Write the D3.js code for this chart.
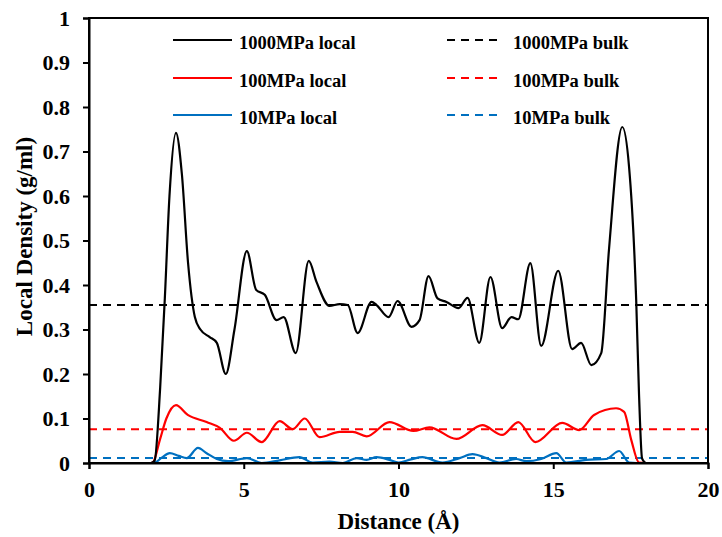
<!DOCTYPE html>
<html>
<head>
<meta charset="utf-8">
<script src="https://cdn.jsdelivr.net/npm/d3@7"></script>
<style>
  body { margin: 0; background: #fff; }
  text { font-family: "Liberation Serif", "Times New Roman", serif; font-weight: bold; fill: #000; }
</style>
</head>
<body>
<svg id="chart" width="722" height="537"></svg>
<script>
// distances (Å) and local densities (g/ml)
const x1000 = [0, 2.0, 2.12, 2.3, 2.45, 2.6, 2.81, 3.0, 3.2, 3.42, 3.6, 3.9, 4.13, 4.42, 4.7, 5.1, 5.4, 5.68, 6.06, 6.29, 6.68, 7.1, 7.35, 7.77, 8.1, 8.36, 8.68, 9.13, 9.29, 9.68, 9.97, 10.42, 10.68, 10.97, 11.26, 11.55, 11.94, 12.23, 12.61, 12.97, 13.35, 13.65, 13.87, 14.26, 14.61, 15.16, 15.61, 15.9, 16.23, 16.55, 16.8, 17.23, 17.45, 17.68, 17.77, 17.87, 18.0, 20];
const y1000 = [0, 0, 0.005, 0.17, 0.37, 0.6, 0.742, 0.65, 0.45, 0.328, 0.3, 0.283, 0.27, 0.2, 0.3, 0.476, 0.389, 0.378, 0.321, 0.328, 0.247, 0.454, 0.407, 0.353, 0.357, 0.355, 0.292, 0.362, 0.355, 0.328, 0.364, 0.306, 0.321, 0.42, 0.37, 0.362, 0.348, 0.371, 0.27, 0.418, 0.303, 0.328, 0.323, 0.449, 0.263, 0.432, 0.256, 0.27, 0.22, 0.247, 0.479, 0.755, 0.665, 0.366, 0.157, 0.01, 0, 0];

const x100 = [0, 2.0, 2.06, 2.29, 2.5, 2.81, 3.19, 3.8, 4.23, 4.68, 5.1, 5.58, 6.16, 6.58, 6.97, 7.45, 8.1, 8.52, 8.97, 9.71, 10.48, 11.0, 11.87, 12.71, 13.35, 13.87, 14.42, 15.29, 15.84, 16.32, 17.03, 17.29, 17.52, 17.77, 18.0, 20];
const y100 = [0, 0, 0.001, 0.052, 0.1, 0.13, 0.108, 0.092, 0.079, 0.05, 0.068, 0.047, 0.094, 0.076, 0.1, 0.058, 0.07, 0.07, 0.06, 0.092, 0.072, 0.08, 0.054, 0.085, 0.063, 0.092, 0.047, 0.09, 0.074, 0.108, 0.123, 0.115, 0.052, 0.001, 0, 0];

const x10 = [0, 2.0, 2.13, 2.35, 2.61, 2.9, 3.16, 3.52, 3.8, 4.13, 4.5, 5.1, 5.58, 6.16, 6.8, 7.23, 7.77, 8.2, 8.65, 8.97, 9.29, 9.71, 10.0, 10.4, 10.77, 11.42, 11.97, 12.39, 12.84, 13.26, 13.8, 14.13, 14.61, 15.1, 15.42, 16.06, 16.71, 17.13, 17.45, 17.7, 20];
const y10 = [0, 0, 0.001, 0.012, 0.022, 0.016, 0.011, 0.034, 0.022, 0.009, 0.004, 0.011, 0.0, 0.006, 0.013, 0.001, 0.003, 0.0, 0.011, 0.007, 0.013, 0.007, 0.001, 0.008, 0.013, 0.001, 0.011, 0.02, 0.011, 0.001, 0.009, 0.004, 0.009, 0.022, 0.001, 0.007, 0.009, 0.027, 0.001, 0, 0];

const bulkNames = ["1000MPa bulk", "100MPa bulk", "10MPa bulk"];
const bulkValues = [0.355, 0.076, 0.011];
const localNames = ["1000MPa local", "100MPa local", "10MPa local"];
const colors = ["#000000", "#ff0000", "#0070c0"];

const xTicks = [0, 5, 10, 15, 20];
const yTicks = [0, 0.1, 0.2, 0.3, 0.4, 0.5, 0.6, 0.7, 0.8, 0.9, 1];

const svg = d3.select("#chart");
const margin = {left: 89, right: 14, top: 18, bottom: 74};
const width = 722 - margin.left - margin.right;
const height = 537 - margin.top - margin.bottom;

const x = d3.scaleLinear().domain([0, 20]).range([margin.left, margin.left + width]);
const y = d3.scaleLinear().domain([0, 1]).range([margin.top + height, margin.top]);

svg.append("clipPath").attr("id", "plotclip")
  .append("rect")
  .attr("x", margin.left).attr("y", margin.top - 2)
  .attr("width", width).attr("height", height + 2);

// bulk (dashed) lines
bulkValues.forEach((v, i) => {
  svg.append("line")
    .attr("x1", x(0)).attr("x2", x(20))
    .attr("y1", y(v)).attr("y2", y(v))
    .attr("stroke", colors[i])
    .attr("stroke-width", 2)
    .attr("stroke-dasharray", "8,6");
});

// local density curves
const line = d3.line()
  .x(d => x(d[0]))
  .y(d => y(d[1]))
  .curve(d3.curveMonotoneX);

const series = [[x1000, y1000], [x100, y100], [x10, y10]];
// blue first so black ends up on top
[2, 1, 0].forEach(i => {
  const pts = d3.zip(series[i][0], series[i][1]);
  svg.append("path")
    .datum(pts)
    .attr("d", line)
    .attr("fill", "none")
    .attr("stroke", colors[i])
    .attr("stroke-width", 2.2)
    .attr("clip-path", "url(#plotclip)");
});

// frame
svg.append("rect")
  .attr("x", margin.left).attr("y", margin.top)
  .attr("width", width).attr("height", height)
  .attr("fill", "none").attr("stroke", "#000").attr("stroke-width", 2);

// axes
const xAxis = svg.append("g")
  .attr("transform", `translate(0,${margin.top + height})`)
  .call(d3.axisBottom(x).tickValues(xTicks).tickSize(6).tickPadding(12).tickFormat(d3.format("d")));
const yAxis = svg.append("g")
  .attr("transform", `translate(${margin.left},0)`)
  .call(d3.axisLeft(y).tickValues(yTicks).tickSize(6).tickPadding(13).tickFormat(d => d === 0 ? "0" : d === 1 ? "1" : d3.format(".1f")(d)));

[xAxis, yAxis].forEach(g => {
  g.select(".domain").attr("stroke-width", 2);
  g.selectAll(".tick line").attr("stroke-width", 2);
  g.selectAll(".tick text")
    .style("font-family", "'Liberation Serif', 'Times New Roman', serif")
    .style("font-weight", "bold")
    .style("font-size", "22px");
});

// axis titles
svg.append("text")
  .attr("x", x(10)).attr("y", 529)
  .attr("text-anchor", "middle")
  .style("font-size", "23px")
  .text("Distance (Å)");

svg.append("text")
  .attr("transform", `translate(32,${y(0.5) - 4}) rotate(-90)`)
  .attr("text-anchor", "middle")
  .style("font-size", "23px")
  .text("Local Density (g/ml)");

// legend
const legendRows = [40, 78, 115];
localNames.forEach((name, i) => {
  svg.append("line")
    .attr("x1", 173).attr("x2", 232)
    .attr("y1", legendRows[i]).attr("y2", legendRows[i])
    .attr("stroke", colors[i]).attr("stroke-width", 2.2);
  svg.append("text")
    .attr("x", 239).attr("y", legendRows[i] + 8.5)
    .style("font-size", "18.5px")
    .text(name);
});
bulkNames.forEach((name, i) => {
  svg.append("line")
    .attr("x1", 447).attr("x2", 503)
    .attr("y1", legendRows[i]).attr("y2", legendRows[i])
    .attr("stroke", colors[i]).attr("stroke-width", 2)
    .attr("stroke-dasharray", "8,6");
  svg.append("text")
    .attr("x", 513).attr("y", legendRows[i] + 8.5)
    .style("font-size", "18.5px")
    .text(name);
});
</script>
</body>
</html>
